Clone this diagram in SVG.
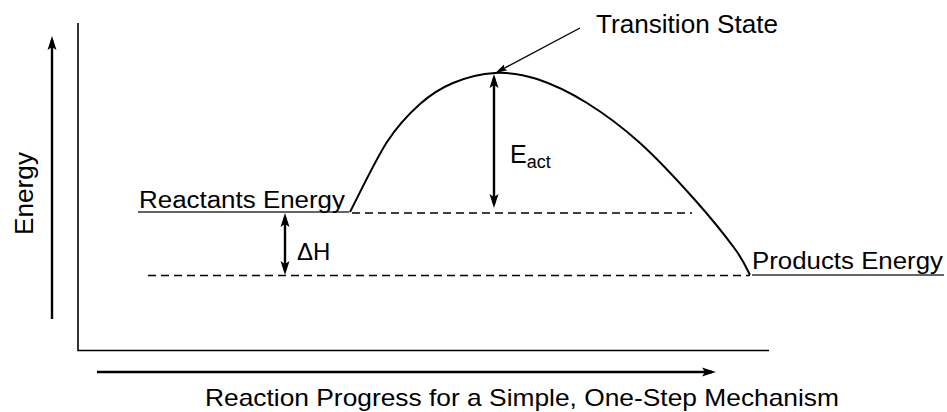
<svg xmlns="http://www.w3.org/2000/svg" width="947" height="412" viewBox="0 0 947 412">
<style>
text{font-family:"Liberation Sans",Arial,Helvetica,sans-serif;fill:#000}
.ax{stroke:#000;stroke-width:1.6;fill:none}
.arr{stroke:#000;stroke-width:2.4;fill:none}
.dash{stroke:#000;stroke-width:1.6;stroke-dasharray:8 5;fill:none}
.lvl{stroke:#333;stroke-width:1.5}
</style>
<defs>
<marker id="ah" viewBox="0 0 14 10" refX="10" refY="5" markerWidth="14" markerHeight="10" markerUnits="userSpaceOnUse" orient="auto-start-reverse">
<path d="M0,0.5 L14,5 L0,9.5 L3,5 Z" fill="#000"/>
</marker>
<marker id="ahs" viewBox="0 0 12 8" refX="9" refY="4" markerWidth="12" markerHeight="8" markerUnits="userSpaceOnUse" orient="auto">
<path d="M0,0.5 L12,4 L0,7.5 L2.5,4 Z" fill="#000"/>
</marker>
</defs>
<rect width="947" height="412" fill="#fff"/>
<g id="axes">
<polyline class="ax" points="78,23 78,350.5 769,350.5"/>
</g>
<g id="energy-levels">
<line class="lvl" x1="138" y1="212" x2="349" y2="212"/>
<line class="lvl" x1="752" y1="275" x2="944" y2="275"/>
<line class="dash" x1="352" y1="213" x2="692" y2="213"/>
<line class="dash" x1="148" y1="275.5" x2="750" y2="275.5"/>
</g>
<g id="reaction-curve">
<path fill="none" stroke="#000" stroke-width="2" d="M350,212 C356.2,200.3 375.3,160 387,142 C398.7,124 409,113.8 420,104 C431,94.2 440.5,88.2 453,83 C465.5,77.8 481,73.7 495,73 C509,72.3 521.7,74 537,79 C552.3,84 569.8,92.3 587,103 C604.2,113.7 622,126.8 640,143 C658,159.2 679.2,182.3 695,200 C710.8,217.7 725.8,236.5 735,249 C744.2,261.5 747.5,270.7 750,275"/>
</g>
<g id="connectors">
<line class="arr" x1="52" y1="319" x2="52" y2="40" marker-end="url(#ah)"/>
<line class="arr" x1="97" y1="372" x2="712" y2="372" marker-end="url(#ah)"/>
<line class="arr" x1="494" y1="78" x2="494" y2="204" marker-start="url(#ah)" marker-end="url(#ah)"/>
<line class="arr" x1="285" y1="217" x2="285" y2="271" marker-start="url(#ah)" marker-end="url(#ah)"/>
<line stroke="#000" stroke-width="1.4" x1="580" y1="28" x2="498" y2="71.5" marker-end="url(#ahs)"/>
</g>
<g id="labels">
<text transform="translate(33,235) rotate(-90)" font-size="25" textLength="83" lengthAdjust="spacingAndGlyphs">Energy</text>
<text x="139" y="208" font-size="23" textLength="206" lengthAdjust="spacingAndGlyphs">Reactants Energy</text>
<text x="752" y="269" font-size="23" textLength="191" lengthAdjust="spacingAndGlyphs">Products Energy</text>
<text x="596" y="33" font-size="26" textLength="182" lengthAdjust="spacingAndGlyphs">Transition State</text>
<text x="297" y="260" font-size="24">ΔH</text>
<text x="510" y="163" font-size="25">E<tspan font-size="18" dy="5">act</tspan></text>
<text x="205" y="406" font-size="24" textLength="634" lengthAdjust="spacingAndGlyphs">Reaction Progress for a Simple, One-Step Mechanism</text>
</g>
</svg>
